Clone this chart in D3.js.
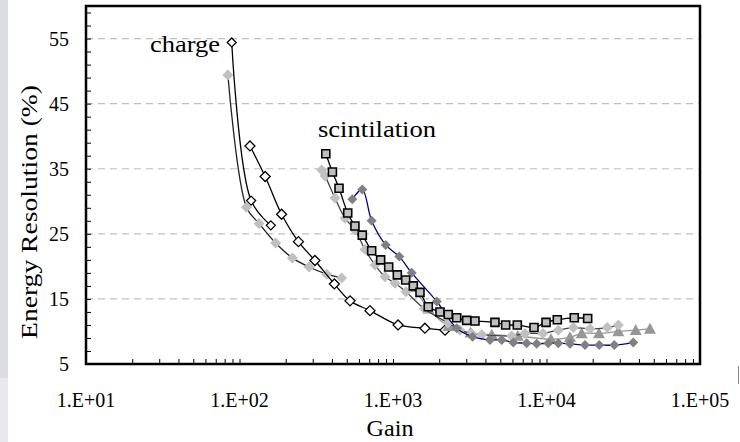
<!DOCTYPE html>
<html>
<head>
<meta charset="utf-8">
<script src="https://cdn.jsdelivr.net/npm/d3@7"></script>
<style>
  body { margin: 0; background: #fff; }
  svg { display: block; }
</style>
</head>
<body>
<div id="chart"></div>
<script>
// ---- data ----
const xTickValues = [1e1, 1e2, 1e3, 1e4, 1e5];
const xTickLabels = ["1.E+01", "1.E+02", "1.E+03", "1.E+04", "1.E+05"];
const yTickValues = [5, 15, 25, 35, 45, 55];

// charge, open diamonds (short one)
const chargeAGain = [89, 119, 160];
const chargeARes = [54.4, 30.1, 26.3];
// charge, open diamonds (long one)
const chargeBGain = [117, 147, 188, 242, 310, 415, 525, 708, 1079, 1614, 2183];
const chargeBRes = [38.5, 33.8, 28.0, 23.8, 20.9, 17.3, 14.7, 13.2, 11.0, 10.5, 10.2];
// charge, light grey diamonds
const chargeCGain = [84, 111, 134, 172, 221, 284, 370, 463];
const chargeCRes = [49.4, 29.1, 26.6, 23.6, 21.3, 19.9, 18.8, 18.2];

// scintillation, grey squares
const scintSqGain = [365, 403, 445, 507, 565, 631, 726, 831, 937, 1067, 1210, 1356, 1499, 1698, 2023, 2291, 2600, 3020, 3421, 4617, 5418, 6453, 8290, 9930, 11760, 15170, 18540];
const scintSqRes = [37.3, 34.5, 32.0, 28.2, 26.2, 24.8, 22.4, 21.0, 19.9, 18.7, 17.9, 17.0, 16.0, 13.8, 13.0, 12.6, 12.1, 11.7, 11.6, 11.4, 11.0, 11.0, 10.6, 11.4, 11.8, 12.1, 12.0];
// scintillation, light grey diamonds
const scintLtGain = [343, 361, 419, 487, 565, 657, 764, 888, 1031, 1215, 1600, 2280, 2730, 3256, 3785, 5930, 7240, 9490, 11940, 14960, 19200, 24880, 29380];
const scintLtRes = [34.8, 33.9, 30.5, 27.4, 25.6, 22.6, 20.2, 18.4, 17.4, 16.1, 13.5, 11.3, 10.2, 9.7, 9.5, 9.3, 9.7, 9.7, 10.2, 10.6, 10.4, 10.6, 11.0];
// scintillation, grey triangles
const scintTriGain = [1371, 1700, 2300, 3200, 4400, 6500, 10690, 14220, 16950, 21980, 29380, 38110, 47210];
const scintTriRes = [16.8, 13.5, 10.8, 9.8, 9.5, 9.3, 8.8, 9.1, 9.7, 9.7, 10.0, 10.2, 10.4];
// scintillation, dark grey diamonds (navy line)
const scintDkGain = [543, 631, 726, 896, 1099, 1324, 1928, 2600, 3300, 4285, 5105, 6080, 7430, 8630, 10270, 11940, 14220, 17810, 22070, 27660, 36750];
const scintDkRes = [30.3, 31.8, 27.0, 23.3, 21.5, 19.0, 14.6, 10.5, 9.2, 8.7, 8.7, 8.3, 8.2, 8.1, 8.2, 8.2, 8.1, 7.9, 7.9, 7.9, 8.3];

const series = [
  { gain: chargeCGain, res: chargeCRes, shape: "diamond", fill: "#c0c0c0", stroke: "none", line: "#222", size: 11 },
  { gain: chargeAGain, res: chargeARes, shape: "diamond", fill: "#fff", stroke: "#000", line: "#000", size: 9 },
  { gain: chargeBGain, res: chargeBRes, shape: "diamond", fill: "#fff", stroke: "#000", line: "#000", size: 10 },
  { gain: scintTriGain, res: scintTriRes, shape: "triangle", fill: "#969696", stroke: "none", line: "#969696", size: 12 },
  { gain: scintLtGain, res: scintLtRes, shape: "diamond", fill: "#c0c0c0", stroke: "none", line: "#444", size: 11 },
  { gain: scintDkGain, res: scintDkRes, shape: "diamond", fill: "#808080", stroke: "none", line: "#000080", size: 10 },
  { gain: scintSqGain, res: scintSqRes, shape: "square", fill: "#c0c0c0", stroke: "#000", line: "#000", size: 8 }
];

const width = 740, height = 442;
const margin = { left: 86, top: 6, right: 40, bottom: 78 };
const serif = "Liberation Serif";

const svg = d3.select("#chart")
    .append("svg")
    .attr("width", width)
    .attr("height", height);

// light strip down the left edge, small mark on the right edge
svg.append("rect").attr("x", 0).attr("y", 0).attr("width", 8).attr("height", 378).attr("fill", "#dcdce3");
svg.append("rect").attr("x", 0).attr("y", 378).attr("width", 8).attr("height", 64).attr("fill", "#e8e8ee");
svg.append("line").attr("x1", 738.5).attr("x2", 738.5).attr("y1", 366).attr("y2", 384).attr("stroke", "#888");

const x = d3.scaleLog()
    .domain([10, 1e5])
    .range([margin.left, width - margin.right]);

const y = d3.scaleLinear()
    .domain([5, 60])
    .range([height - margin.bottom, margin.top]);

// gridlines
svg.append("g")
    .selectAll("line")
    .data(yTickValues.slice(1))
    .enter().append("line")
    .attr("x1", x.range()[0])
    .attr("x2", x.range()[1])
    .attr("y1", d => y(d))
    .attr("y2", d => y(d))
    .attr("stroke", "#c0c0c0")
    .attr("stroke-width", 1.2)
    .attr("stroke-dasharray", "7,5");

// y axis, ticks inside
const yAxis = svg.append("g")
    .attr("transform", `translate(${x.range()[0]},0)`)
    .call(d3.axisRight(y).tickValues(d3.range(5, 61, 2)).tickSize(5).tickFormat(""));
yAxis.select(".domain").remove();
yAxis.selectAll("line").attr("stroke", "#000").attr("stroke-width", 1);

svg.append("g")
    .selectAll("text")
    .data(yTickValues)
    .enter().append("text")
    .attr("x", 69)
    .attr("y", d => y(d))
    .attr("dy", "0.35em")
    .attr("text-anchor", "end")
    .attr("font-family", serif)
    .attr("font-size", 20)
    .text(d => d);

// x axis, ticks inside
const minorX = [];
for (let e = 1; e < 5; e++) for (let m = 1; m < 10; m++) minorX.push(m * Math.pow(10, e));
minorX.push(1e5);
const xAxis = svg.append("g")
    .attr("transform", `translate(0,${y.range()[0]})`)
    .call(d3.axisTop(x).tickValues(minorX).tickSize(5).tickFormat(""));
xAxis.select(".domain").remove();
xAxis.selectAll("line").attr("stroke", "#000").attr("stroke-width", 1);

svg.append("g")
    .selectAll("text")
    .data(xTickValues)
    .enter().append("text")
    .attr("x", d => x(d))
    .attr("y", 406.5)
    .attr("text-anchor", "middle")
    .attr("font-family", serif)
    .attr("font-size", 20)
    .text((d, i) => xTickLabels[i]);

// axis titles
svg.append("text")
    .attr("x", 390)
    .attr("y", 436)
    .attr("text-anchor", "middle")
    .attr("font-family", serif)
    .attr("font-size", 23)
    .attr("textLength", 47)
    .attr("lengthAdjust", "spacingAndGlyphs")
    .text("Gain");

svg.append("text")
    .attr("transform", "translate(37,212)rotate(-90)")
    .attr("text-anchor", "middle")
    .attr("font-family", serif)
    .attr("font-size", 24)
    .attr("textLength", 254)
    .attr("lengthAdjust", "spacingAndGlyphs")
    .text("Energy Resolution (%)");

// series
const line = d3.line()
    .x(d => x(d[0]))
    .y(d => y(d[1]))
    .curve(d3.curveCatmullRom.alpha(0.5));

function markerPath(shape, size) {
  const h = size / 2;
  if (shape === "diamond") return `M0,${-h}L${h},0L0,${h}L${-h},0Z`;
  if (shape === "square") return `M${-h},${-h}H${h}V${h}H${-h}Z`;
  return `M0,${-h}L${h},${h * 0.8}L${-h},${h * 0.8}Z`;
}

const sg = svg.append("g")
    .selectAll("g")
    .data(series)
    .enter().append("g");

sg.append("path")
    .attr("d", s => line(s.gain.map((g, i) => [g, s.res[i]])))
    .attr("fill", "none")
    .attr("stroke", s => s.line)
    .attr("stroke-width", 1.3);

sg.each(function(s) {
  d3.select(this).selectAll("path.m")
    .data(s.gain.map((g, i) => [g, s.res[i]]))
    .enter().append("path")
    .attr("class", "m")
    .attr("transform", d => `translate(${x(d[0])},${y(d[1])})`)
    .attr("d", markerPath(s.shape, s.size))
    .attr("fill", s.fill)
    .attr("stroke", s.stroke)
    .attr("stroke-width", s.shape === "square" ? 1.6 : 1.3);
});

// frame
svg.append("rect")
    .attr("x", x.range()[0])
    .attr("y", y.range()[1])
    .attr("width", x.range()[1] - x.range()[0])
    .attr("height", y.range()[0] - y.range()[1])
    .attr("fill", "none")
    .attr("stroke", "#000")
    .attr("stroke-width", 2.5);

// annotations
svg.append("text")
    .attr("x", 220)
    .attr("y", 52)
    .attr("text-anchor", "end")
    .attr("font-family", serif)
    .attr("font-size", 24)
    .attr("textLength", 70)
    .attr("lengthAdjust", "spacingAndGlyphs")
    .text("charge");

svg.append("text")
    .attr("x", 318)
    .attr("y", 137)
    .attr("font-family", serif)
    .attr("font-size", 24)
    .attr("textLength", 118)
    .attr("lengthAdjust", "spacingAndGlyphs")
    .text("scintilation");
</script>
</body>
</html>
